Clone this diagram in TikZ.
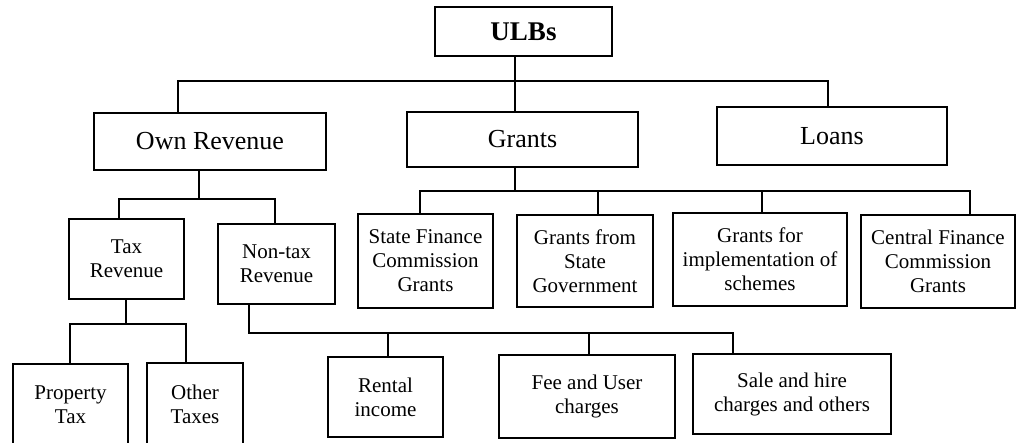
\documentclass[tikz,border=0pt]{standalone}
\usepackage{fontspec}
\setmainfont{Liberation Serif}
\begin{document}
\begin{tikzpicture}[x=1pt,y=-1pt,
  box/.style={draw,line width=1.5pt,inner sep=0pt,align=center},
  big/.style={box,font=\fontsize{26}{30}\selectfont},
  small/.style={box,font=\fontsize{21}{24}\selectfont},
  wire/.style={line width=1.5pt}]
\clip (0,0) rectangle (1023,443);
\fill[white] (0,0) rectangle (1023,443);
% nodes
\node[box,font=\fontsize{27}{30}\bfseries\selectfont,minimum width=177pt,minimum height=49pt] (ulbs) at (523.5,31.5) {ULBs};
\node[big,minimum width=232pt,minimum height=57pt] (own) at (210,141.5) {Own Revenue};
\node[big,minimum width=231pt,minimum height=55pt] (grants) at (522.5,139.5) {Grants};
\node[big,minimum width=230pt,minimum height=58pt] (loans) at (832,136) {Loans};
\node[small,minimum width=115pt,minimum height=80pt] (tax) at (126.5,259) {Tax\\Revenue};
\node[small,minimum width=117pt,minimum height=80pt] (nontax) at (276.5,264) {Non-tax\\Revenue};
\node[small,minimum width=135pt,minimum height=94pt] (sfc) at (425.5,261) {State Finance\\Commission\\Grants};
\node[small,minimum width=136pt,minimum height=92pt] (gsg) at (585,261) {Grants from\\State\\Government};
\node[small,minimum width=174pt,minimum height=93pt] (gis) at (760,259.5) {Grants for\\implementation of\\schemes};
\node[small,minimum width=154pt,minimum height=93pt] (cfc) at (938,261.5) {Central Finance\\Commission\\Grants};
\node[small,minimum width=115pt,minimum height=82pt] (prop) at (70.5,405) {Property\\Tax};
\node[small,minimum width=96pt,minimum height=83pt] (other) at (195,404.5) {Other\\Taxes};
\node[small,minimum width=115pt,minimum height=80pt] (rent) at (385.5,397) {Rental\\income};
\node[small,minimum width=176pt,minimum height=83pt] (fee) at (587,396.5) {Fee and User\\charges};
\node[small,minimum width=198pt,minimum height=80pt] (sale) at (792,394) {Sale and hire\\charges and others};
% bus coordinates
\coordinate (b1m) at (515,81);
\coordinate (b1l) at (178,81);
\coordinate (b1r) at (828,81);
\coordinate (b2m) at (199,199);
\coordinate (b2l) at (119,199);
\coordinate (b2r) at (275,199);
\coordinate (b3m) at (126,324);
\coordinate (b3l) at (70,324);
\coordinate (b3r) at (186,324);
\coordinate (b4l) at (249,333);
\coordinate (b4a) at (388,333);
\coordinate (b4b) at (589,333);
\coordinate (b4r) at (733,333);
\coordinate (b5m) at (515,191);
\coordinate (b5l) at (420,191);
\coordinate (b5a) at (598,191);
\coordinate (b5b) at (762,191);
\coordinate (b5r) at (970,191);
% level 1
\draw[wire] (b1m |- ulbs.south) -- (b1m |- grants.north);
\draw[wire] (b1l |- own.north) -- (b1l) -- (b1r) -- (b1r |- loans.north);
% own revenue
\draw[wire] (b2m |- own.south) -- (b2m);
\draw[wire] (b2l |- tax.north) -- (b2l) -- (b2r) -- (b2r |- nontax.north);
% tax revenue
\draw[wire] (b3m |- tax.south) -- (b3m);
\draw[wire] (b3l |- prop.north) -- (b3l) -- (b3r) -- (b3r |- other.north);
% non-tax revenue
\draw[wire] (b4l |- nontax.south) -- (b4l) -- (b4r) -- (b4r |- sale.north);
\draw[wire] (b4a) -- (b4a |- rent.north);
\draw[wire] (b4b) -- (b4b |- fee.north);
% grants
\draw[wire] (b5m |- grants.south) -- (b5m);
\draw[wire] (b5l |- sfc.north) -- (b5l) -- (b5r) -- (b5r |- cfc.north);
\draw[wire] (b5a) -- (b5a |- gsg.north);
\draw[wire] (b5b) -- (b5b |- gis.north);
\end{tikzpicture}
\end{document}
